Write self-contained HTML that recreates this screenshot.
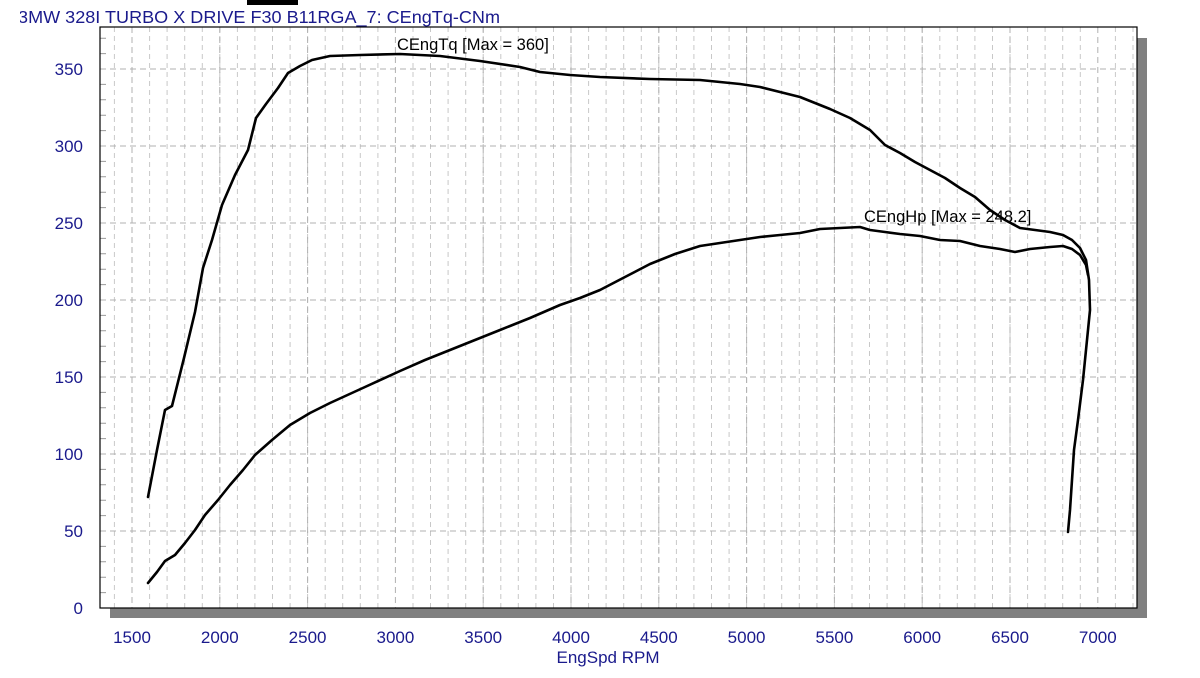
<!DOCTYPE html>
<html><head><meta charset="utf-8"><style>
body{margin:0;background:#fff;width:1200px;height:673px;overflow:hidden}
svg text{font-family:"Liberation Sans",sans-serif}
</style></head><body>
<svg width="1200" height="673" viewBox="0 0 1200 673">
<rect x="247" y="0" width="51" height="5" fill="#000"/>
<text x="6" y="23" font-size="17.5" fill="#1a1a8c" textLength="494" lengthAdjust="spacingAndGlyphs">B3MW 328I TURBO  X DRIVE F30 B11RGA_7: CEngTq-CNm</text>
<rect x="0" y="0" width="20" height="28" fill="#fff"/>
<rect x="247" y="0" width="51" height="5" fill="#000"/>
<rect x="1137" y="38" width="10" height="580" fill="#808080"/>
<rect x="110" y="608" width="1037" height="10" fill="#808080"/>
<rect x="100" y="27" width="1037" height="581" fill="#fff"/>
<g stroke="#c8c8c8" stroke-width="1" stroke-dasharray="5,4">
<path d="M114.4 27V608M149.6 27V608M167.1 27V608M184.7 27V608M202.3 27V608M219.8 27V608M237.4 27V608M254.9 27V608M272.5 27V608M290.1 27V608M307.6 27V608M325.2 27V608M342.7 27V608M360.3 27V608M377.9 27V608M413 27V608M430.5 27V608M448.1 27V608M465.7 27V608M483.2 27V608M500.8 27V608M518.3 27V608M535.9 27V608M553.5 27V608M571 27V608M588.6 27V608M606.1 27V608M623.7 27V608M641.3 27V608M658.8 27V608M676.4 27V608M693.9 27V608M711.5 27V608M729.1 27V608M746.6 27V608M764.2 27V608M781.7 27V608M799.3 27V608M816.9 27V608M834.4 27V608M852 27V608M869.5 27V608M887.1 27V608M904.7 27V608M922.2 27V608M939.8 27V608M957.3 27V608M974.9 27V608M992.5 27V608M1010 27V608M1027.6 27V608M1045.1 27V608M1062.7 27V608M1080.3 27V608M1115.4 27V608M1133 27V608"/>
</g>
<g stroke="#b0b0b0" stroke-width="1" stroke-dasharray="6,4">
<path d="M132 27V608M219.8 27V608M307.6 27V608M395.4 27V608M483.2 27V608M571 27V608M658.8 27V608M746.6 27V608M834.4 27V608M922.2 27V608M1010 27V608M1097.8 27V608"/>
<path d="M100 531H1137M100 454H1137M100 377H1137M100 300H1137M100 223H1137M100 146H1137M100 69H1137"/>
</g>
<g stroke="#999" stroke-width="1">
<path d="M100 592.6h6M100 577.2h6M100 561.8h6M100 546.4h6M100 515.6h6M100 500.2h6M100 484.8h6M100 469.4h6M100 438.6h6M100 423.2h6M100 407.8h6M100 392.4h6M100 361.6h6M100 346.2h6M100 330.8h6M100 315.4h6M100 284.6h6M100 269.2h6M100 253.8h6M100 238.4h6M100 207.6h6M100 192.2h6M100 176.8h6M100 161.4h6M100 130.6h6M100 115.2h6M100 99.8h6M100 84.4h6M100 53.6h6M100 38.2h6"/>
</g>
<rect x="100" y="27" width="1037" height="581" fill="none" stroke="#000" stroke-width="1.2"/>
<g font-size="17" fill="#1a1a8c" text-anchor="end">
<text x="83" y="614">0</text><text x="83" y="537">50</text><text x="83" y="460">100</text><text x="83" y="383">150</text><text x="83" y="306">200</text><text x="83" y="229">250</text><text x="83" y="152">300</text><text x="83" y="75">350</text>
</g>
<g font-size="17" fill="#1a1a8c" text-anchor="middle">
<text x="132" y="643">1500</text><text x="219.8" y="643">2000</text><text x="307.6" y="643">2500</text><text x="395.4" y="643">3000</text><text x="483.2" y="643">3500</text><text x="571" y="643">4000</text><text x="658.8" y="643">4500</text><text x="746.6" y="643">5000</text><text x="834.4" y="643">5500</text><text x="922.2" y="643">6000</text><text x="1010" y="643">6500</text><text x="1097.8" y="643">7000</text>
<text x="608" y="663">EngSpd RPM</text>
</g>
<g fill="none" stroke="#000" stroke-width="2.6" stroke-linejoin="round" stroke-linecap="round">
<polyline points="148,497 157,450 165,410 172,406 184,358 195,312 203,268 212,240 222,205 235,175 248,150 256,118 266,104 278,88 288,73 300,66 312,60 330,56 360,55 400,54 440,56 480,61 520,67 540,72 570,75 600,77 650,79 700,80 720,82 740,84 760,87 780,92 800,97 830,109 850,118 870,130 885,145 900,153 915,162 930,170 945,178 960,188 975,197 990,210 1005,220 1020,228 1035,230 1050,232 1063,235 1072,240 1080,248 1086,260 1089,280 1090,310 1087,340 1083,380 1078,420 1074,450 1072,480 1070,510 1068,532"/>
<polyline points="148,583 157,572 165,561 175,555 185,543 195,530 205,515 218,500 230,485 243,470 255,455 272,440 290,425 310,413 330,403 365,387 400,371 425,360 450,350 475,340 500,330 530,318 560,305 580,298 600,290 625,277 650,264 675,254 700,246 720,243 740,240 760,237 780,235 800,233 820,229 840,228 860,227 870,230 885,232 900,234 920,236 940,240 960,241 980,246 1000,249 1015,252 1030,249 1050,247 1063,246 1072,249 1080,255 1086,265 1088,275"/>
</g>
<g font-size="16.5" fill="#000">
<text x="397" y="50">CEngTq [Max = 360]</text>
<text x="864" y="222">CEngHp [Max = 248.2]</text>
</g>
</svg>
</body></html>
